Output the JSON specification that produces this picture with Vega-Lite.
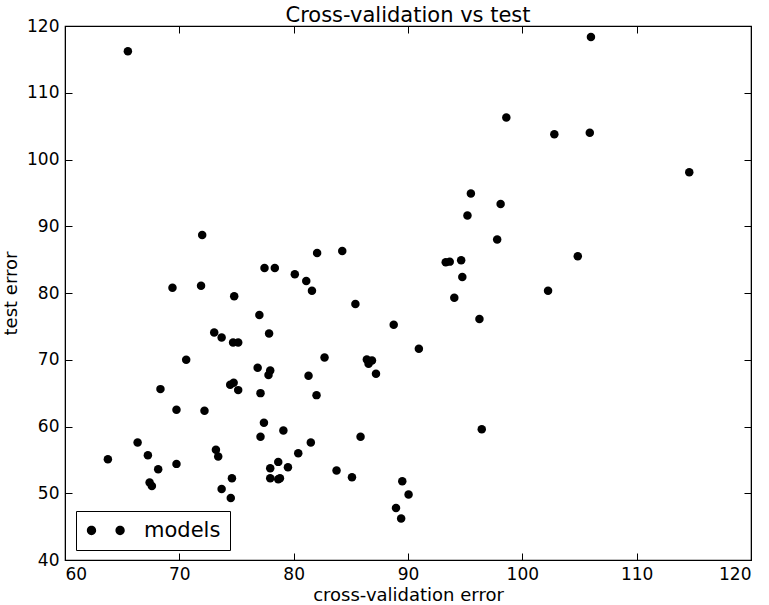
{
  "$schema": "https://vega.github.io/schema/vega-lite/v6.json",
  "width": 686,
  "height": 534,
  "autosize": {"type": "none"},
  "padding": {"left": 65, "top": 26, "right": 18, "bottom": 45},
  "background": "white",
  "title": {"text": "Cross-validation vs test", "fontSize": 21, "fontWeight": "normal", "font": "DejaVu Sans", "color": "black", "offset": -9},
  "config": {
    "view": {"stroke": "black", "strokeWidth": 1.2},
    "axis": {"font": "DejaVu Sans", "labelFont": "DejaVu Sans", "titleFont": "DejaVu Sans", "labelColor": "black", "titleColor": "black", "labelFontSize": 17, "titleFontSize": 18, "titleFontWeight": "normal", "domainColor": "black", "tickColor": "black", "grid": false, "tickSize": -7, "labelPadding": 13}
  },
  "data": {"values": [
    {"cv": 65.5, "test": 116.2, "series": "models"},
    {"cv": 106.0, "test": 118.35, "series": "models"},
    {"cv": 98.6, "test": 106.3, "series": "models"},
    {"cv": 102.8, "test": 103.8, "series": "models"},
    {"cv": 105.9, "test": 104.0, "series": "models"},
    {"cv": 114.6, "test": 98.1, "series": "models"},
    {"cv": 95.5, "test": 94.9, "series": "models"},
    {"cv": 95.2, "test": 91.6, "series": "models"},
    {"cv": 98.1, "test": 93.35, "series": "models"},
    {"cv": 72.0, "test": 88.7, "series": "models"},
    {"cv": 97.8, "test": 88.0, "series": "models"},
    {"cv": 93.3, "test": 84.6, "series": "models"},
    {"cv": 93.65, "test": 84.7, "series": "models"},
    {"cv": 94.65, "test": 84.9, "series": "models"},
    {"cv": 94.75, "test": 82.4, "series": "models"},
    {"cv": 104.85, "test": 85.5, "series": "models"},
    {"cv": 94.05, "test": 79.3, "series": "models"},
    {"cv": 102.25, "test": 80.35, "series": "models"},
    {"cv": 96.25, "test": 76.1, "series": "models"},
    {"cv": 69.4, "test": 80.8, "series": "models"},
    {"cv": 71.9, "test": 81.1, "series": "models"},
    {"cv": 77.45, "test": 83.75, "series": "models"},
    {"cv": 78.35, "test": 83.75, "series": "models"},
    {"cv": 80.1, "test": 82.8, "series": "models"},
    {"cv": 81.1, "test": 81.8, "series": "models"},
    {"cv": 81.6, "test": 80.35, "series": "models"},
    {"cv": 82.05, "test": 86.0, "series": "models"},
    {"cv": 84.25, "test": 86.3, "series": "models"},
    {"cv": 74.8, "test": 79.5, "series": "models"},
    {"cv": 85.4, "test": 78.35, "series": "models"},
    {"cv": 77.0, "test": 76.7, "series": "models"},
    {"cv": 73.05, "test": 74.1, "series": "models"},
    {"cv": 73.7, "test": 73.35, "series": "models"},
    {"cv": 74.7, "test": 72.6, "series": "models"},
    {"cv": 75.15, "test": 72.6, "series": "models"},
    {"cv": 77.85, "test": 73.95, "series": "models"},
    {"cv": 70.6, "test": 70.0, "series": "models"},
    {"cv": 76.85, "test": 68.8, "series": "models"},
    {"cv": 77.95, "test": 68.4, "series": "models"},
    {"cv": 77.8, "test": 67.7, "series": "models"},
    {"cv": 81.3, "test": 67.6, "series": "models"},
    {"cv": 82.7, "test": 70.35, "series": "models"},
    {"cv": 86.4, "test": 70.05, "series": "models"},
    {"cv": 86.85, "test": 69.9, "series": "models"},
    {"cv": 86.55, "test": 69.4, "series": "models"},
    {"cv": 87.2, "test": 67.9, "series": "models"},
    {"cv": 88.75, "test": 75.25, "series": "models"},
    {"cv": 90.95, "test": 71.65, "series": "models"},
    {"cv": 68.35, "test": 65.6, "series": "models"},
    {"cv": 74.45, "test": 66.25, "series": "models"},
    {"cv": 74.75, "test": 66.55, "series": "models"},
    {"cv": 75.15, "test": 65.45, "series": "models"},
    {"cv": 77.1, "test": 65.0, "series": "models"},
    {"cv": 82.0, "test": 64.7, "series": "models"},
    {"cv": 69.75, "test": 62.5, "series": "models"},
    {"cv": 72.2, "test": 62.35, "series": "models"},
    {"cv": 77.4, "test": 60.55, "series": "models"},
    {"cv": 79.1, "test": 59.4, "series": "models"},
    {"cv": 77.1, "test": 58.45, "series": "models"},
    {"cv": 81.5, "test": 57.6, "series": "models"},
    {"cv": 85.85, "test": 58.45, "series": "models"},
    {"cv": 96.45, "test": 59.6, "series": "models"},
    {"cv": 66.35, "test": 57.6, "series": "models"},
    {"cv": 73.2, "test": 56.5, "series": "models"},
    {"cv": 73.4, "test": 55.5, "series": "models"},
    {"cv": 67.25, "test": 55.7, "series": "models"},
    {"cv": 80.4, "test": 56.0, "series": "models"},
    {"cv": 63.75, "test": 55.1, "series": "models"},
    {"cv": 69.75, "test": 54.4, "series": "models"},
    {"cv": 78.65, "test": 54.7, "series": "models"},
    {"cv": 77.95, "test": 53.75, "series": "models"},
    {"cv": 79.5, "test": 53.9, "series": "models"},
    {"cv": 68.15, "test": 53.6, "series": "models"},
    {"cv": 83.75, "test": 53.4, "series": "models"},
    {"cv": 85.1, "test": 52.4, "series": "models"},
    {"cv": 77.95, "test": 52.25, "series": "models"},
    {"cv": 78.65, "test": 52.1, "series": "models"},
    {"cv": 78.8, "test": 52.25, "series": "models"},
    {"cv": 74.6, "test": 52.25, "series": "models"},
    {"cv": 67.4, "test": 51.6, "series": "models"},
    {"cv": 67.6, "test": 51.1, "series": "models"},
    {"cv": 73.7, "test": 50.65, "series": "models"},
    {"cv": 74.5, "test": 49.3, "series": "models"},
    {"cv": 89.5, "test": 51.8, "series": "models"},
    {"cv": 90.05, "test": 49.8, "series": "models"},
    {"cv": 88.95, "test": 47.8, "series": "models"},
    {"cv": 89.4, "test": 46.2, "series": "models"}
  ]},
  "layer": [
    {
      "mark": {"type": "point", "filled": true, "shape": "circle", "size": 72, "opacity": 1, "strokeWidth": 0},
      "encoding": {
        "x": {"field": "cv", "type": "quantitative", "scale": {"domain": [60, 120], "nice": false, "zero": false},
              "axis": {"title": "cross-validation error", "values": [60, 70, 80, 90, 100, 110, 120], "titlePadding": 4}},
        "y": {"field": "test", "type": "quantitative", "scale": {"domain": [40, 120], "nice": false, "zero": false},
              "axis": {"title": "test error", "values": [40, 50, 60, 70, 80, 90, 100, 110, 120], "titlePadding": 6}},
        "color": {"field": "series", "type": "nominal", "scale": {"range": ["black"]},
                  "legend": {"title": null, "orient": "none", "legendX": 11, "legendY": 485,
                             "strokeColor": "black", "fillColor": "white", "padding": 9,
                             "symbolType": "M 0.065 0 A 0.465 0.465 0 1 0 -0.865 0 A 0.465 0.465 0 1 0 0.065 0 Z M 2.925 0 A 0.465 0.465 0 1 0 1.995 0 A 0.465 0.465 0 1 0 2.925 0 Z",
                             "symbolSize": 400, "symbolFillColor": "black", "symbolStrokeWidth": 0,
                             "labelFont": "DejaVu Sans", "labelFontSize": 21, "labelColor": "black", "labelOffset": 38}}
      }
    },
    {
      "mark": {"type": "point", "opacity": 0},
      "encoding": {
        "x": {"field": "cv", "type": "quantitative", "axis": {"orient": "top", "labels": false, "title": null, "values": [60, 70, 80, 90, 100, 110, 120]}},
        "y": {"field": "test", "type": "quantitative", "axis": {"orient": "right", "labels": false, "title": null, "values": [40, 50, 60, 70, 80, 90, 100, 110, 120]}}
      }
    }
  ],
  "resolve": {"axis": {"x": "independent", "y": "independent"}}
}
